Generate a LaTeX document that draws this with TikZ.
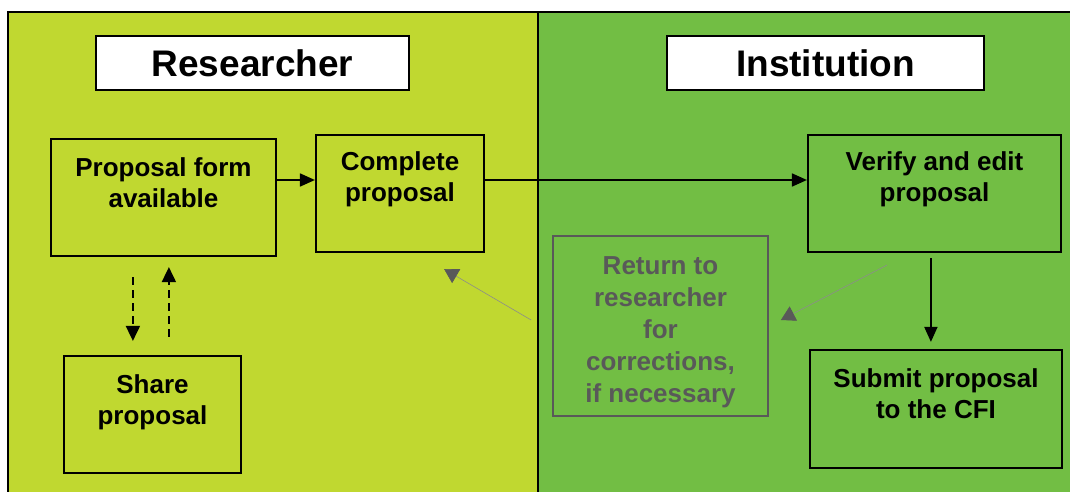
\documentclass[tikz,border=0pt]{standalone}
\usepackage{fontspec}
\setmainfont{Liberation Sans}
\usetikzlibrary{arrows.meta,calc}
\definecolor{lime}{RGB}{192,216,48}
\definecolor{leaf}{RGB}{114,190,68}
\definecolor{dgray}{RGB}{89,89,89}
\tikzset{
  box/.style={draw=black,line width=2.2pt,inner sep=0pt},
  titlebox/.style={draw=black,line width=2pt,fill=white,inner sep=0pt,font=\fontsize{37}{40}\selectfont\bfseries},
  boxtext/.style={anchor=north,align=center,inner sep=0pt,font=\fontsize{26}{31}\selectfont\bfseries,yshift=-20pt},
  graytext/.style={anchor=north,align=center,inner sep=0pt,font=\fontsize{26}{32}\selectfont\bfseries,text=dgray,yshift=-21pt},
  arr/.style={line width=1.8pt,-{Triangle[length=15pt,width=13pt]}},
  dasharr/.style={line width=1.8pt,dash pattern=on 8pt off 5pt,-{Triangle[length=15pt,width=14pt]}},
  grayarr/.style={draw=black!45,line width=0.6pt,-{Triangle[length=14pt,width=16pt,color=dgray,fill=dgray]}}
}
\begin{document}
\begin{tikzpicture}[x=1pt,y=-1pt]
\useasboundingbox (0,0) rectangle (1070,492);
% panels
\fill[lime] (8,12) rectangle (538,500);
\fill[leaf] (538,12) rectangle (1080,500);
\draw[line width=2.2pt] (8,500) -- (8,12) -- (1080,12);
\draw[line width=2.2pt] (538,12) -- (538,500);
% titles
\node[titlebox,minimum width=313pt,minimum height=54pt] (restitle) at (252.5,63.5) {Researcher};
\node[titlebox,minimum width=317pt,minimum height=54pt] (insttitle) at (825.5,63.5) {Institution};
% boxes
\node[box,minimum width=225pt,minimum height=117pt,label={[boxtext]north:Proposal form\\available}] (prop) at (163.5,197.5) {};
\node[box,minimum width=168pt,minimum height=117pt,label={[boxtext,yshift=2pt]north:Complete\\proposal}] (comp) at (400,193.5) {};
\node[box,minimum width=177pt,minimum height=117pt,label={[boxtext]north:Share\\proposal}] (share) at (152.5,414.5) {};
\node[box,minimum width=253pt,minimum height=117pt,label={[boxtext,yshift=2pt]north:Verify and edit\\proposal}] (verify) at (934.5,193.5) {};
\node[box,minimum width=252pt,minimum height=118pt,label={[boxtext]north:Submit proposal\\to the CFI}] (submit) at (936,409) {};
\node[draw=dgray,line width=1.8pt,minimum width=215pt,minimum height=180pt,inner sep=0pt,label={[graytext]north:Return to\\researcher\\for\\corrections,\\if necessary}] (ret) at (660.5,326) {};
% connectors
\draw[arr] (prop.east |- 0,180) -- (comp.west |- 0,180);
\draw[arr] (comp.east |- 0,180) -- (verify.west |- 0,180);
\draw[arr] ($(verify.south west)+(124,5)$) -- ($(submit.north west)+(122,-7)$);
\draw[dasharr] ($(prop.south west)+(83,20)$) -- ($(share.north west)+(70,-14)$);
\draw[dasharr] ($(share.north west)+(106,-18)$) -- ($(prop.south west)+(119,10)$);
\draw[grayarr] ($(ret.west)+(-21,-6)$) -- ($(comp.south east)+(-41,16)$);
\draw[grayarr] ($(verify.south west)+(80,12)$) -- ($(ret.east)+(12,-6)$);
\end{tikzpicture}
\end{document}
